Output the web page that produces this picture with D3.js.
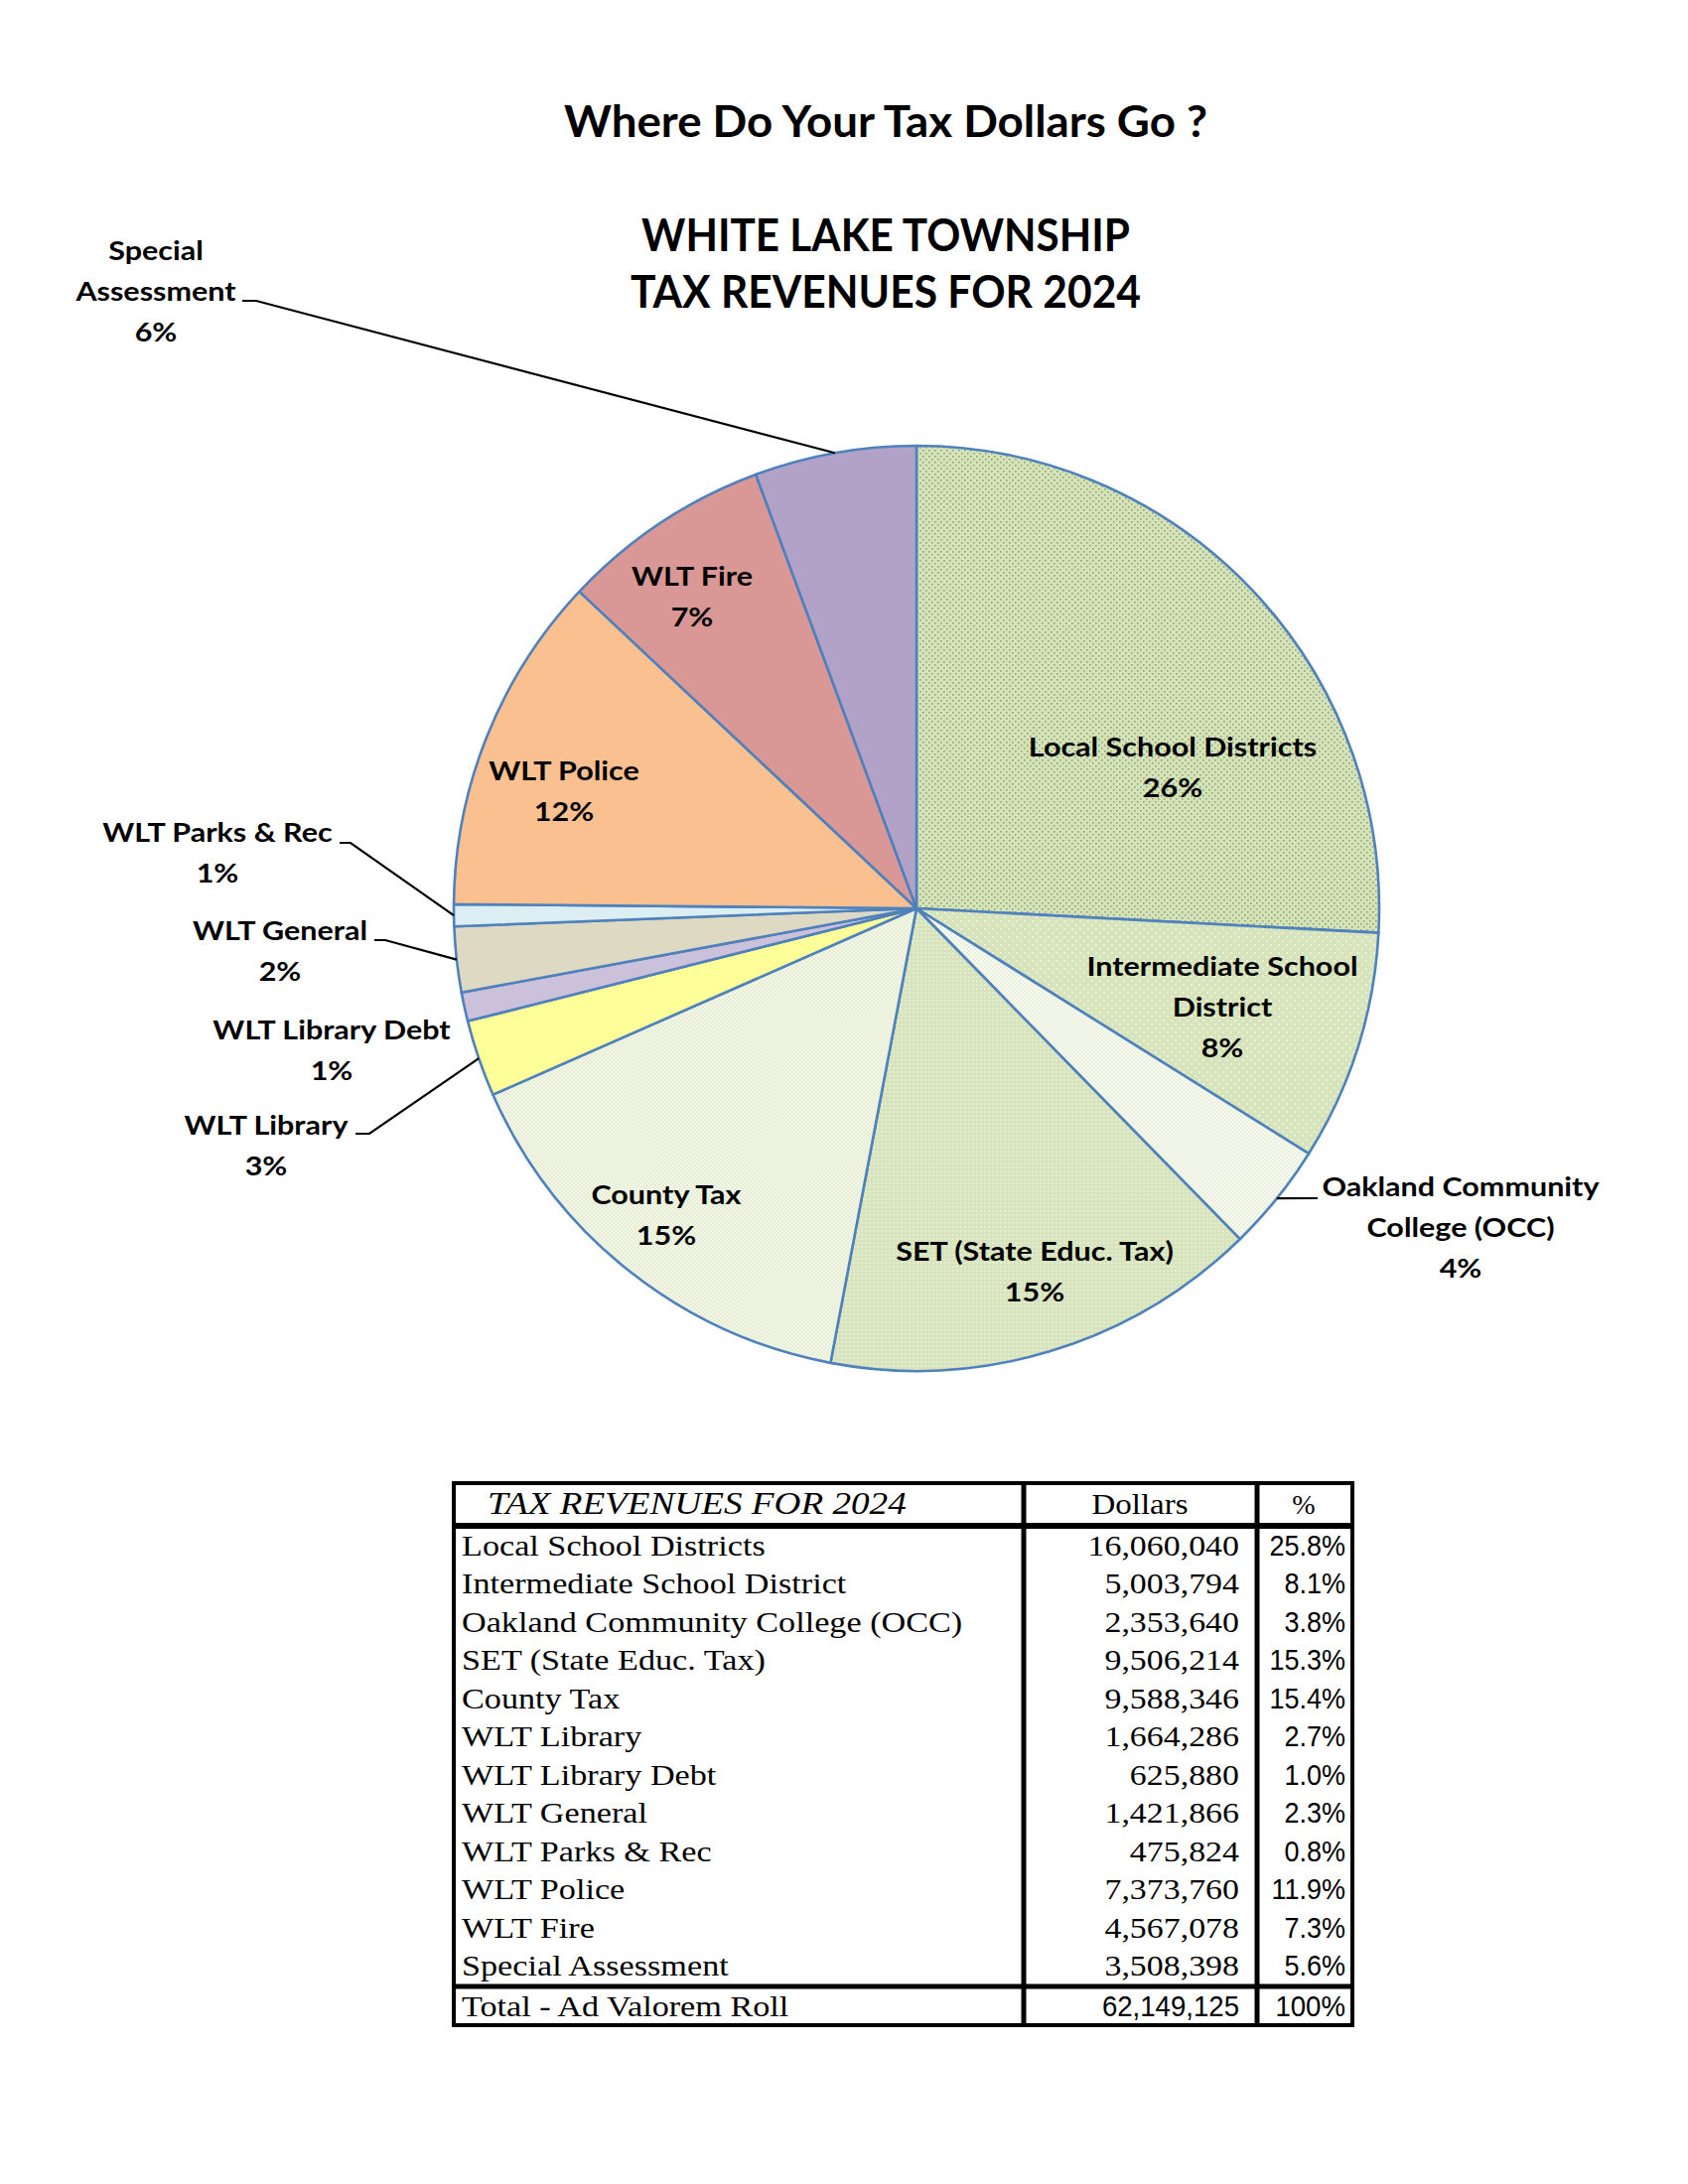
<!DOCTYPE html>
<html>
<head>
<meta charset="utf-8">
<script src="https://cdn.jsdelivr.net/npm/d3@7/dist/d3.min.js"></script>
<style>
  html, body { margin: 0; padding: 0; background: #ffffff; }
  svg { display: block; }
</style>
</head>
<body>
<div id="chart"></div>
<script>
// ---------------- DATA ----------------
const categories = [
  "Local School Districts",
  "Intermediate School District",
  "Oakland Community College (OCC)",
  "SET (State Educ. Tax)",
  "County Tax",
  "WLT Library",
  "WLT Library Debt",
  "WLT General",
  "WLT Parks & Rec",
  "WLT Police",
  "WLT Fire",
  "Special Assessment"
];
const dollars = [16060040, 5003794, 2353640, 9506214, 9588346, 1664286,
                 625880, 1421866, 475824, 7373760, 4567078, 3508398];
const tablePercents = ["25.8%", "8.1%", "3.8%", "15.3%", "15.4%", "2.7%",
                       "1.0%", "2.3%", "0.8%", "11.9%", "7.3%", "5.6%"];
const pieLabelLines = [
  ["Local School Districts"],
  ["Intermediate School", "District"],
  ["Oakland Community", "College (OCC)"],
  ["SET (State Educ. Tax)"],
  ["County Tax"],
  ["WLT Library"],
  ["WLT Library Debt"],
  ["WLT General"],
  ["WLT Parks & Rec"],
  ["WLT Police"],
  ["WLT Fire"],
  ["Special", "Assessment"]
];
const pieLabelPercents = ["26%", "8%", "4%", "15%", "15%", "3%", "1%", "2%", "1%", "12%", "7%", "6%"];
const totalLabel = "Total - Ad Valorem Roll";
const totalRoll = 62149125;
const totalPercent = "100%";
const titleLines = ["Where Do Your Tax Dollars Go ?", "WHITE LAKE TOWNSHIP", "TAX REVENUES FOR 2024"];
const tableHeaders = ["TAX REVENUES FOR 2024", "Dollars", "%"];

// ---------------- LAYOUT / STYLE ----------------
const W = 1700, H = 2200;
const cx = 923, cy = 915, R = 466;
const labelFont = "Lato, 'Open Sans', sans-serif";
const lineH = 41;

// label anchor: x center, y first baseline, leader points (label side) or none
const labelLayout = [
  { x: 1181, y: 762 },
  { x: 1231, y: 983 },
  { x: 1471, y: 1205, leader: [[1327, 1207]] },
  { x: 1042, y: 1270 },
  { x: 671,  y: 1213 },
  { x: 268,  y: 1143, leader: [[358, 1142], [372, 1142]] },
  { x: 334,  y: 1047 },
  { x: 282,  y: 947,  leader: [[377, 947], [388, 947]] },
  { x: 219,  y: 848,  leader: [[342, 849], [353, 849]] },
  { x: 568,  y: 786 },
  { x: 697,  y: 590 },
  { x: 157,  y: 262,  leader: [[244, 303], [258, 303]] }
];

const fills = [
  "url(#patLocal)", "url(#patInter)", "url(#patOCC)", "url(#patSET)", "url(#patCounty)",
  "#ffff99", "#ccc1da", "#ddd9c3", "#dbeef3", "#fac090", "#d99795", "#b3a2c7"
];

const svg = d3.select("#chart").append("svg")
  .attr("width", W).attr("height", H)
  .attr("viewBox", `0 0 ${W} ${H}`);
svg.append("rect").attr("width", W).attr("height", H).attr("fill", "#ffffff");

// ---------------- PATTERNS ----------------
const defs = svg.append("defs");
function pattern(id, size, base, dots, dotColor, dotSize) {
  const p = defs.append("pattern").attr("id", id).attr("patternUnits", "userSpaceOnUse")
    .attr("width", size).attr("height", size);
  p.append("rect").attr("width", size).attr("height", size).attr("fill", base);
  dots.forEach(([x, y]) => p.append("rect").attr("x", x).attr("y", y)
    .attr("width", dotSize).attr("height", dotSize).attr("fill", dotColor));
}
pattern("patLocal", 6, "#d5e3b9", [[0, 0], [3, 3]], "#93a574", 1.6);
pattern("patInter", 8, "#d6e3bb", [[0, 0], [4, 4]], "#e9f0db", 2);
pattern("patOCC", 4, "#e9f0db", [[0, 0], [2, 2]], "#f7faf0", 2);
pattern("patSET", 4, "#d6e3bb", [[0, 0]], "#e4ecd1", 2);
pattern("patCounty", 4, "#e5edd3", [[0, 0], [2, 2]], "#f3f7ea", 2);

// ---------------- TITLES ----------------
const titleG = svg.append("g").attr("font-family", labelFont).attr("font-weight", "bold")
  .attr("text-anchor", "middle").attr("fill", "#000");
titleG.append("text").attr("x", 892).attr("y", 138).attr("font-size", 44)
  .attr("textLength", 648).attr("lengthAdjust", "spacingAndGlyphs").text(titleLines[0]);
titleG.append("text").attr("x", 892).attr("y", 253).attr("font-size", 46)
  .attr("textLength", 492).attr("lengthAdjust", "spacingAndGlyphs").text(titleLines[1]);
titleG.append("text").attr("x", 892).attr("y", 310).attr("font-size", 46)
  .attr("textLength", 514).attr("lengthAdjust", "spacingAndGlyphs").text(titleLines[2]);

// ---------------- PIE ----------------
const pie = d3.pie().sort(null).value(d => d).startAngle(0).endAngle(2 * Math.PI);
const arcs = pie(dollars);
const arc = d3.arc().innerRadius(0).outerRadius(R);
const edgeArc = d3.arc().innerRadius(R).outerRadius(R);

const pieG = svg.append("g").attr("transform", `translate(${cx},${cy})`);
pieG.selectAll("path.slice").data(arcs).join("path")
  .attr("class", "slice")
  .attr("d", arc)
  .attr("fill", (d, i) => fills[i])
  .attr("stroke", "#4f81bd")
  .attr("stroke-width", 2.6)
  .attr("stroke-linejoin", "round");

// leader lines
const leaderG = svg.append("g").attr("fill", "none").attr("stroke", "#000").attr("stroke-width", 2.2);
arcs.forEach((d, i) => {
  const lay = labelLayout[i];
  if (!lay.leader) return;
  const [ex, ey] = edgeArc.centroid(d);
  const pts = lay.leader;
  const all = pts.length === 1 ? [[cx + ex, cy + ey], pts[0]] : [pts[0], pts[1], [cx + ex, cy + ey]];
  leaderG.append("path").attr("d", d3.line()(all));
});

// labels
const labelG = svg.append("g").attr("font-family", labelFont).attr("font-weight", "bold")
  .attr("font-size", 27).attr("text-anchor", "middle").attr("fill", "#000");
categories.forEach((c, i) => {
  const lay = labelLayout[i];
  const lines = pieLabelLines[i].concat([pieLabelPercents[i]]);
  const g = labelG.append("g").attr("transform", `translate(${lay.x},${lay.y}) scale(1.13,1)`);
  const t = g.append("text");
  lines.forEach((ln, k) => {
    t.append("tspan").attr("x", 0).attr("y", k * lineH).text(ln);
  });
});

// ---------------- TABLE ----------------
const tbl = { left: 457, right: 1362, top: 1494, bottom: 2040, col1: 1031, col2: 1266,
              headBottom: 1537, totalTop: 2001, firstBase: 1567, rowH: 38.45, totalBase: 2031 };
const serif = "'Liberation Serif', 'Times New Roman', serif";
const narrow = "'Liberation Sans Narrow', 'Liberation Sans', Arial, sans-serif";
const tg = svg.append("g");

function txt(x, y, s, opts) {
  const g = tg.append("g").attr("transform", `translate(${x},${y}) scale(${opts.sx || 1},1)`);
  g.append("text").attr("x", 0).attr("y", 0)
    .attr("font-family", opts.font).attr("font-size", opts.size)
    .attr("font-style", opts.style || "normal")
    .attr("text-anchor", opts.anchor || "start").attr("fill", "#000").text(s);
}

const dollarFmt = d3.format(",");
const yRow = d3.scaleLinear().domain([0, 1]).range([tbl.firstBase, tbl.firstBase + tbl.rowH]);

// header
txt(491, 1525, tableHeaders[0], { font: serif, size: 31, style: "italic", sx: 1.2 });
txt(1148, 1525, tableHeaders[1], { font: serif, size: 30, anchor: "middle", sx: 1.1 });
txt(1313, 1525, tableHeaders[2], { font: serif, size: 28, anchor: "middle", sx: 1.0 });

categories.forEach((c, i) => {
  const y = yRow(i);
  txt(465, y, c, { font: serif, size: 30, sx: 1.14 });
  txt(1248, y, dollarFmt(dollars[i]), { font: serif, size: 30, anchor: "end", sx: 1.13 });
  txt(1355, y, tablePercents[i], { font: narrow, size: 30, anchor: "end", sx: 0.9 });
});
txt(465, tbl.totalBase, totalLabel, { font: serif, size: 30, sx: 1.14 });
txt(1248, tbl.totalBase, dollarFmt(totalRoll), { font: narrow, size: 30, anchor: "end", sx: 0.92 });
txt(1355, tbl.totalBase, totalPercent, { font: narrow, size: 30, anchor: "end", sx: 0.92 });

// table lines
const lineG = tg.append("g").attr("stroke", "#000").attr("fill", "none");
lineG.append("rect").attr("x", tbl.left).attr("y", tbl.top)
  .attr("width", tbl.right - tbl.left).attr("height", tbl.bottom - tbl.top).attr("stroke-width", 4);
lineG.append("line").attr("x1", tbl.left).attr("x2", tbl.right)
  .attr("y1", tbl.headBottom).attr("y2", tbl.headBottom).attr("stroke-width", 6);
lineG.append("line").attr("x1", tbl.left).attr("x2", tbl.right)
  .attr("y1", tbl.totalTop).attr("y2", tbl.totalTop).attr("stroke-width", 5);
[tbl.col1, tbl.col2].forEach(x => lineG.append("line").attr("x1", x).attr("x2", x)
  .attr("y1", tbl.top).attr("y2", tbl.bottom).attr("stroke-width", 5));
</script>
</body>
</html>
